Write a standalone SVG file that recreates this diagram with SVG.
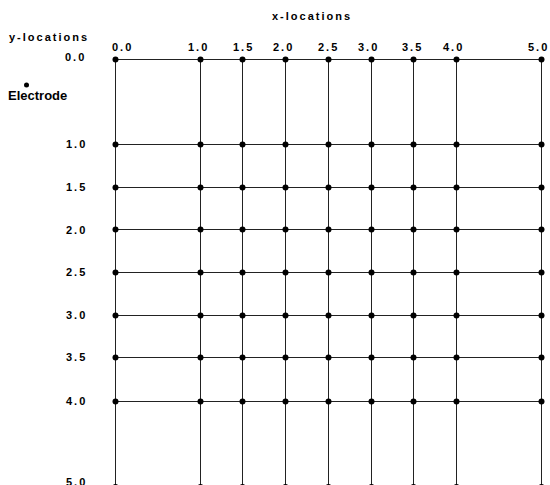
<svg xmlns="http://www.w3.org/2000/svg" width="550" height="485" viewBox="0 0 550 485">
<defs>
<style>
.lbl{font-family:"Liberation Sans",Arial,sans-serif;font-size:11px;letter-spacing:2px;fill:#000;font-weight:bold}
.ln{stroke:#222;stroke-width:1;fill:none}
.dot{fill:#000}
</style>
<circle id="d" r="3" class="dot"/>
</defs>
<rect width="550" height="485" fill="#fff"/>
<g id="titles">
<text class="lbl" x="272" y="20">x-locations</text>
<text class="lbl" x="9" y="41">y-locations</text>
</g>
<g id="x-labels" class="lbl">
<text class="lbl" x="112" y="51">0.0</text>
<text class="lbl" x="188" y="51">1.0</text>
<text class="lbl" x="233" y="51">1.5</text>
<text class="lbl" x="273" y="51">2.0</text>
<text class="lbl" x="318" y="51">2.5</text>
<text class="lbl" x="358" y="51">3.0</text>
<text class="lbl" x="402" y="51">3.5</text>
<text class="lbl" x="443" y="51">4.0</text>
<text class="lbl" x="528" y="51">5.0</text>
</g>
<g id="y-labels">
<text class="lbl" x="65" y="61">0.0</text>
<text class="lbl" x="66" y="148">1.0</text>
<text class="lbl" x="66" y="191">1.5</text>
<text class="lbl" x="66" y="234">2.0</text>
<text class="lbl" x="66" y="276">2.5</text>
<text class="lbl" x="66" y="319">3.0</text>
<text class="lbl" x="66" y="361">3.5</text>
<text class="lbl" x="66" y="405">4.0</text>
<text class="lbl" x="66" y="486">5.0</text>
</g>
<g id="legend">
<circle cx="26.5" cy="85" r="2.5" class="dot"/>
<text x="8" y="100" font-family="Liberation Sans,Arial,sans-serif" font-size="13" font-weight="bold" fill="#000">Electrode</text>
</g>
<g id="connectors" class="ln">
<line x1="115.5" y1="59.5" x2="541.5" y2="59.5"/>
<line x1="115.5" y1="144.5" x2="541.5" y2="144.5"/>
<line x1="115.5" y1="187.5" x2="541.5" y2="187.5"/>
<line x1="115.5" y1="229.5" x2="541.5" y2="229.5"/>
<line x1="115.5" y1="272.5" x2="541.5" y2="272.5"/>
<line x1="115.5" y1="315.5" x2="541.5" y2="315.5"/>
<line x1="115.5" y1="357.5" x2="541.5" y2="357.5"/>
<line x1="115.5" y1="401.5" x2="541.5" y2="401.5"/>
<line x1="115.5" y1="59.5" x2="115.5" y2="485"/>
<line x1="200.5" y1="59.5" x2="200.5" y2="485"/>
<line x1="242.5" y1="59.5" x2="242.5" y2="485"/>
<line x1="285.5" y1="59.5" x2="285.5" y2="485"/>
<line x1="328.5" y1="59.5" x2="328.5" y2="485"/>
<line x1="371.5" y1="59.5" x2="371.5" y2="485"/>
<line x1="413.5" y1="59.5" x2="413.5" y2="485"/>
<line x1="456.5" y1="59.5" x2="456.5" y2="485"/>
<line x1="541.5" y1="59.5" x2="541.5" y2="485"/>
</g>
<g id="nodes">
<g id="row-0.0"><use href="#d" x="115.5" y="59.5"/><use href="#d" x="200.5" y="59.5"/><use href="#d" x="242.5" y="59.5"/><use href="#d" x="285.5" y="59.5"/><use href="#d" x="328.5" y="59.5"/><use href="#d" x="371.5" y="59.5"/><use href="#d" x="413.5" y="59.5"/><use href="#d" x="456.5" y="59.5"/><use href="#d" x="541.5" y="59.5"/></g>
<g id="row-1.0"><use href="#d" x="115.5" y="144.5"/><use href="#d" x="200.5" y="144.5"/><use href="#d" x="242.5" y="144.5"/><use href="#d" x="285.5" y="144.5"/><use href="#d" x="328.5" y="144.5"/><use href="#d" x="371.5" y="144.5"/><use href="#d" x="413.5" y="144.5"/><use href="#d" x="456.5" y="144.5"/><use href="#d" x="541.5" y="144.5"/></g>
<g id="row-1.5"><use href="#d" x="115.5" y="187.5"/><use href="#d" x="200.5" y="187.5"/><use href="#d" x="242.5" y="187.5"/><use href="#d" x="285.5" y="187.5"/><use href="#d" x="328.5" y="187.5"/><use href="#d" x="371.5" y="187.5"/><use href="#d" x="413.5" y="187.5"/><use href="#d" x="456.5" y="187.5"/><use href="#d" x="541.5" y="187.5"/></g>
<g id="row-2.0"><use href="#d" x="115.5" y="229.5"/><use href="#d" x="200.5" y="229.5"/><use href="#d" x="242.5" y="229.5"/><use href="#d" x="285.5" y="229.5"/><use href="#d" x="328.5" y="229.5"/><use href="#d" x="371.5" y="229.5"/><use href="#d" x="413.5" y="229.5"/><use href="#d" x="456.5" y="229.5"/><use href="#d" x="541.5" y="229.5"/></g>
<g id="row-2.5"><use href="#d" x="115.5" y="272.5"/><use href="#d" x="200.5" y="272.5"/><use href="#d" x="242.5" y="272.5"/><use href="#d" x="285.5" y="272.5"/><use href="#d" x="328.5" y="272.5"/><use href="#d" x="371.5" y="272.5"/><use href="#d" x="413.5" y="272.5"/><use href="#d" x="456.5" y="272.5"/><use href="#d" x="541.5" y="272.5"/></g>
<g id="row-3.0"><use href="#d" x="115.5" y="315.5"/><use href="#d" x="200.5" y="315.5"/><use href="#d" x="242.5" y="315.5"/><use href="#d" x="285.5" y="315.5"/><use href="#d" x="328.5" y="315.5"/><use href="#d" x="371.5" y="315.5"/><use href="#d" x="413.5" y="315.5"/><use href="#d" x="456.5" y="315.5"/><use href="#d" x="541.5" y="315.5"/></g>
<g id="row-3.5"><use href="#d" x="115.5" y="357.5"/><use href="#d" x="200.5" y="357.5"/><use href="#d" x="242.5" y="357.5"/><use href="#d" x="285.5" y="357.5"/><use href="#d" x="328.5" y="357.5"/><use href="#d" x="371.5" y="357.5"/><use href="#d" x="413.5" y="357.5"/><use href="#d" x="456.5" y="357.5"/><use href="#d" x="541.5" y="357.5"/></g>
<g id="row-4.0"><use href="#d" x="115.5" y="401.5"/><use href="#d" x="200.5" y="401.5"/><use href="#d" x="242.5" y="401.5"/><use href="#d" x="285.5" y="401.5"/><use href="#d" x="328.5" y="401.5"/><use href="#d" x="371.5" y="401.5"/><use href="#d" x="413.5" y="401.5"/><use href="#d" x="456.5" y="401.5"/><use href="#d" x="541.5" y="401.5"/></g>
<g id="row-5.0"><use href="#d" x="115.5" y="487"/><use href="#d" x="200.5" y="487"/><use href="#d" x="242.5" y="487"/><use href="#d" x="285.5" y="487"/><use href="#d" x="328.5" y="487"/><use href="#d" x="371.5" y="487"/><use href="#d" x="413.5" y="487"/><use href="#d" x="456.5" y="487"/><use href="#d" x="541.5" y="487"/></g>
</g>
</svg>
